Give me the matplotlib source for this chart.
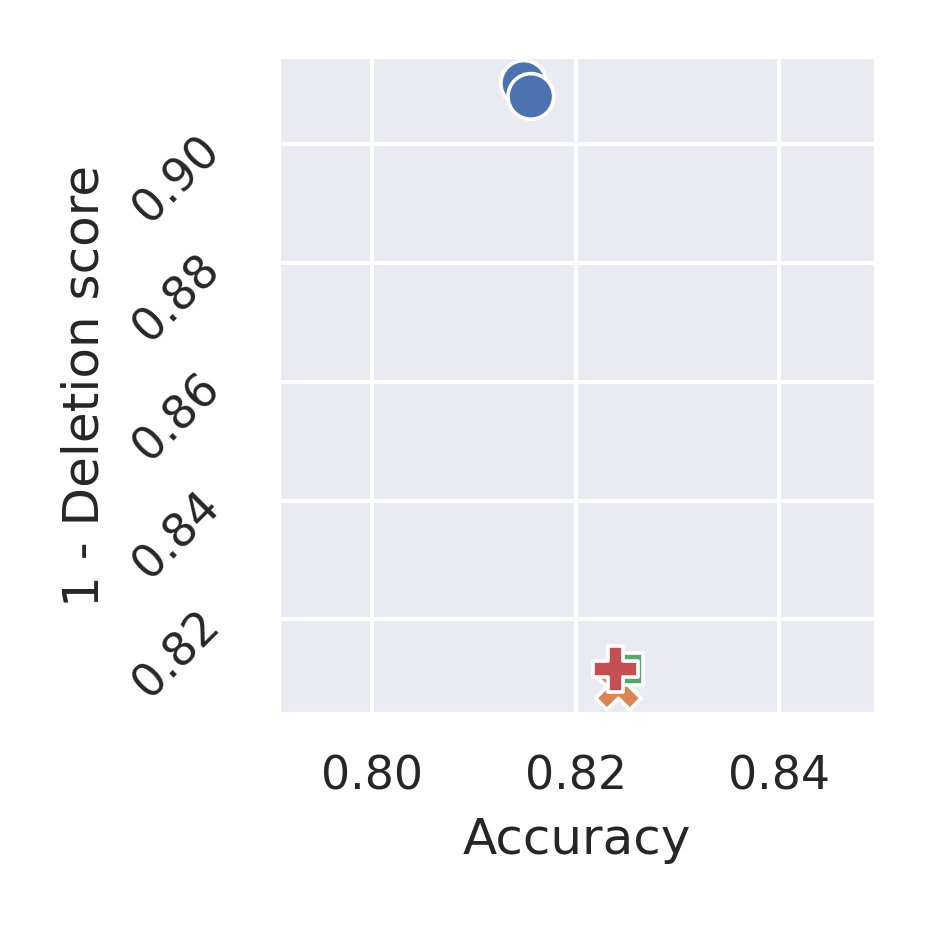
import matplotlib
matplotlib.use("Agg")
import matplotlib.pyplot as plt
import seaborn as sns
import pandas as pd

sns.set_theme(style="darkgrid")

methods = ["A", "A", "B", "C", "D"]
accuracy = [0.8149, 0.8156, 0.8242, 0.8250, 0.8239]
deletion = [0.9103, 0.9081, 0.8086, 0.8116, 0.8116]

df = pd.DataFrame({"method": methods, "Accuracy": accuracy, "1 - Deletion score": deletion})

fig, ax = plt.subplots(figsize=(3.113, 3.113), dpi=300)
sns.scatterplot(data=df, x="Accuracy", y="1 - Deletion score", hue="method",
                style="method", s=120, legend=False, ax=ax)
ax.set_xlim(0.7908, 0.8495)
ax.set_ylim(0.8041, 0.9149)
ax.set_xticks([0.80, 0.82, 0.84])
ax.set_yticks([0.82, 0.84, 0.86, 0.88, 0.90])
plt.setp(ax.get_yticklabels(), rotation=45)
ax.yaxis.set_tick_params(pad=plt.rcParams["ytick.major.pad"] + 2.4)
fig.subplots_adjust(left=0.298, right=0.938, top=0.939, bottom=0.235)
fig.savefig("out.png", dpi=300)
